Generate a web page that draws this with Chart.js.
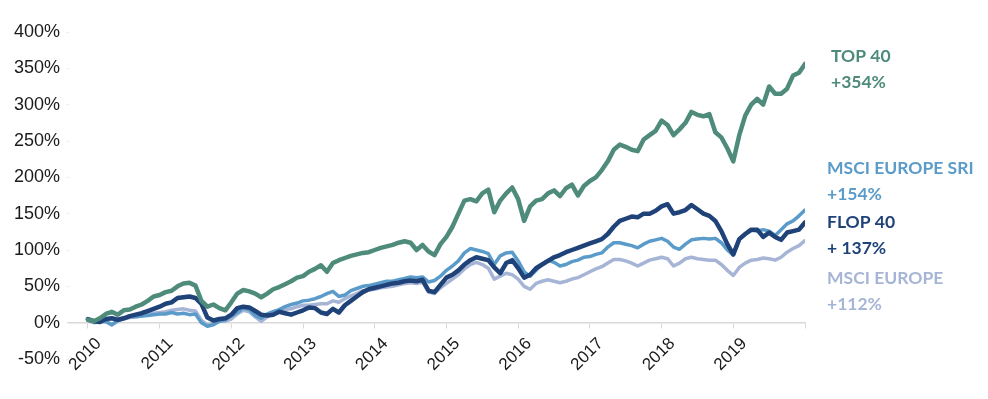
<!DOCTYPE html>
<html lang="en">
  <head>
    <meta charset="UTF-8" />
    <script src="https://cdn.jsdelivr.net/npm/chart.js@4.4.1/dist/chart.umd.min.js"></script>
    <title>Top 40 vs Flop 40</title>
    <style>
      body {
        margin: 0;
        padding: 0;
        background: #fff;
      }

      .container {
        width: 988px;
        height: 399px;
      }
    </style>
  </head>
  <body>
    <div class="container">
      <canvas id="perfChart"></canvas>
    </div>
    <script>
      // monthly points, Jan 2010 .. Jan 2020, cumulative performance in %
      const months = Array.from({ length: 121 }, (_, i) => 2010 + i / 12)

      const yearLabels = ['2010', '2011', '2012', '2013', '2014', '2015', '2016', '2017', '2018', '2019']

      const top40 = [
        4, 2, 6, 12, 15, 11, 17, 18, 22, 25, 30, 36,
        38, 42, 44, 50, 54, 55, 51, 30, 22, 25, 20, 17,
        28, 40, 45, 43, 40, 35, 40, 46, 49, 53, 57, 62,
        64, 70, 74, 79, 70, 82, 86, 89, 92, 94, 96, 97,
        100, 103, 105, 107, 110, 112, 110, 100, 107, 98, 93, 108,
        118, 132, 150, 168, 170, 167, 178, 183, 152, 168, 178, 186,
        170, 140, 160, 168, 170, 178, 182, 174, 185, 190, 175, 188,
        195, 200, 210, 222, 238, 245, 242, 238, 236, 252, 258, 264,
        278, 272, 258, 266, 275, 290, 286, 284, 287, 262, 255, 240,
        222, 258, 285, 300, 308, 300, 325, 315, 315, 322, 340, 344,
        356,
      ]

      const msciSri = [
        4, 1, 3, 2, -3, 3, 6, 8, 8, 9, 10, 11,
        12, 12, 14, 12, 13, 11, 12, 0, -5, -3, 2, 4,
        9, 14, 20, 18, 10, 6, 12, 15, 18, 22, 25, 27,
        30, 31, 33, 36, 40, 43, 36, 38, 44, 47, 50, 51,
        53, 55, 57, 57, 59, 61, 63, 62, 63, 56, 58, 64,
        72, 78, 85, 96, 102, 100, 98, 95, 80, 92, 96, 97,
        85, 70, 64, 72, 80, 86, 83, 78, 80, 84, 86, 90,
        91, 94, 96, 104, 110, 110, 108, 106, 103, 108, 112, 114,
        116, 112, 104, 101, 108, 114, 115, 116, 115, 116, 110, 100,
        93, 115, 122, 127, 126, 128, 126, 120, 128, 136, 140, 147,
        155,
      ]

      const flop40 = [
        5, 2, 1, 5, 6, 4, 6, 9, 11, 13, 16, 19,
        22, 26, 28, 34, 35, 36, 34, 26, 7, 3, 5, 6,
        11, 20, 22, 21, 16, 11, 10, 11, 15, 13, 11, 14,
        17, 21, 20, 14, 12, 19, 14, 24, 30, 36, 42, 46,
        48, 50, 52, 54, 55, 57, 58, 57, 59, 44, 42, 52,
        62, 66, 72, 80, 86, 90, 88, 86, 76, 68, 82, 86,
        75, 62, 66, 75, 80, 85, 90, 93, 97, 100, 103, 106,
        109, 112, 115, 122, 132, 140, 143, 146, 145, 150, 150, 154,
        160, 163, 150, 152, 155, 162, 156, 150, 147, 140, 126, 108,
        94, 115, 122, 128, 128, 118, 124, 118, 114, 124, 126, 128,
        138,
      ]

      const msciEurope = [
        3, 0, 1, 1, -3, 2, 5, 7, 8, 9, 11, 13,
        14, 15, 17, 18, 19, 17, 16, 3, -3, -1, 2, 2,
        5, 12, 17, 15, 8, 2, 8, 12, 16, 18, 19, 22,
        24, 24, 25, 26, 26, 30, 28, 33, 37, 40, 44, 45,
        46, 48, 49, 50, 52, 54, 55, 54, 56, 42, 40, 48,
        54, 60, 66, 74, 80, 83, 80, 75, 60, 64, 68, 66,
        60, 50, 46, 54, 57, 59, 57, 55, 57, 60, 62, 66,
        70, 74, 77, 82, 87, 87, 85, 82, 78, 82, 86, 88,
        90, 88, 78, 82, 88, 90, 88, 87, 86, 86, 80, 72,
        65, 76, 82, 86, 87, 89, 88, 86, 90, 97, 102, 106,
        113,
      ]

      const seriesNames = ['TOP 40', 'FLOP 40', 'MSCI EUROPE SRI', 'MSCI EUROPE']
      const seriesColors = ['#4e8b7b', '#1f4279', '#5b9bc9', '#a6b5d6']
      const endLabels = ['+354%', '+ 137%', '+154%', '+112%']

      const toPoints = (values) => values.map((v, i) => ({ x: months[i], y: v }))

      const labelShift = 0.15

      // names + final performance written to the right of the plot
      const endLabelPlugin = {
        id: 'endLabels',
        afterDraw(chart) {
          const { ctx, chartArea } = chart
          const x = chartArea.right + 22
          const rows = [
            { i: 0, y: 56, dx: 4 },
            { i: 2, y: 168, dx: 0 },
            { i: 1, y: 222, dx: 0 },
            { i: 3, y: 278, dx: 0 },
          ]
          ctx.save()
          ctx.font = 'bold 17.5px Lato'
          ctx.textAlign = 'left'
          ctx.textBaseline = 'middle'
          rows.forEach((row) => {
            ctx.fillStyle = seriesColors[row.i]
            ctx.fillText(seriesNames[row.i], x + row.dx, row.y)
            ctx.fillText(endLabels[row.i], x + row.dx, row.y + 26)
          })
          ctx.restore()
        },
      }

      const ctx = document.getElementById('perfChart').getContext('2d')
      const chart = new Chart(ctx, {
        type: 'line',
        data: {
          datasets: [
            { label: seriesNames[0], data: toPoints(top40), borderColor: seriesColors[0], borderWidth: 4.5 },
            { label: seriesNames[1], data: toPoints(flop40), borderColor: seriesColors[1], borderWidth: 4.5 },
            { label: seriesNames[2], data: toPoints(msciSri), borderColor: seriesColors[2], borderWidth: 3.5 },
            { label: seriesNames[3], data: toPoints(msciEurope), borderColor: seriesColors[3], borderWidth: 3.5 },
          ],
        },
        options: {
          animation: false,
          responsive: true,
          maintainAspectRatio: false,
          layout: {
            padding: { left: 8, right: 183, top: 32, bottom: 40 },
          },
          elements: {
            point: { radius: 0 },
            line: { tension: 0, borderJoinStyle: 'round', borderCapStyle: 'round' },
          },
          plugins: {
            legend: { display: false },
            tooltip: { enabled: false },
          },
          scales: {
            x: {
              type: 'linear',
              position: { y: 0 },
              min: 2009.737,
              max: 2020,
              afterBuildTicks: (axis) => {
                axis.ticks = [2010, 2011, 2012, 2013, 2014, 2015, 2016, 2017, 2018, 2019, 2020].map((v) => ({ value: v }))
              },
              ticks: { display: false },
              grid: {
                drawOnChartArea: false,
                tickLength: 5,
                color: '#d9d9d9',
              },
              border: { color: '#d9d9d9', width: 1.5 },
            },
            xl: {
              type: 'linear',
              axis: 'x',
              position: { y: 0 },
              min: 2009.737,
              max: 2020,
              afterBuildTicks: (axis) => {
                axis.ticks = yearLabels.map((y) => ({ value: Number(y) + labelShift }))
              },
              ticks: {
                minRotation: 45,
                maxRotation: 45,
                padding: 3,
                color: '#1a1a1a',
                font: { family: 'Liberation Sans', size: 17 },
                callback: (value, index) => yearLabels[index],
              },
              grid: { display: false },
              border: { display: false },
            },
            y: {
              min: -50,
              max: 400,
              afterBuildTicks: (axis) => {
                axis.ticks = [-50, 0, 50, 100, 150, 200, 250, 300, 350, 400].map((v) => ({ value: v }))
              },
              ticks: {
                padding: 6,
                color: '#1a1a1a',
                font: { family: 'Liberation Sans', size: 18 },
                callback: (value) => value + '%',
              },
              grid: {
                drawOnChartArea: false,
                tickLength: 3,
                color: '#eeeeee',
              },
              border: { display: false },
            },
          },
        },
        plugins: [endLabelPlugin],
      })
    </script>
  </body>
</html>
